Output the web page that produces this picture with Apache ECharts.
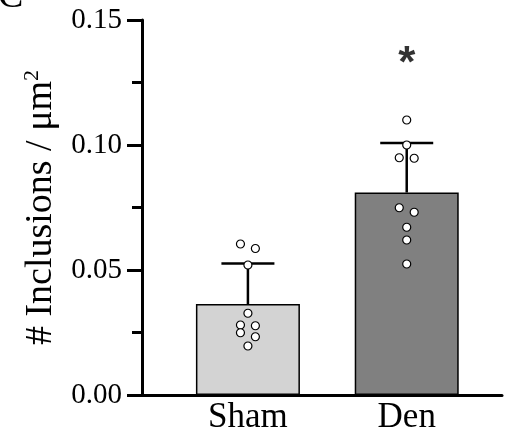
<!DOCTYPE html>
<html>
<head>
<meta charset="utf-8">
<script src="https://cdn.jsdelivr.net/npm/echarts@6/dist/echarts.min.js"></script>
<style>
  html, body { margin: 0; padding: 0; background: #fff; }
  #chart { width: 507px; height: 440px; }
</style>
</head>
<body>
<div id="chart"></div>
<script>
  const categories = ["Sham", "Den"];
  const means = [0.0364, 0.0810];
  const sds = [0.0162, 0.0198];
  const barColors = ["#d3d3d3", "#808080"];

  // individual animals
  const shamPoints = [0.0604, 0.0586, 0.0520, 0.0327, 0.0280, 0.0277, 0.0249, 0.0233, 0.0196];
  const denPoints = [0.1100, 0.1000, 0.0949, 0.0947, 0.0749, 0.0731, 0.0671, 0.0620, 0.0524];
  // horizontal jitter in steps (-1 left, 0 centre, 1 right)
  const shamJitter = [-1, 1, 0, 0, -1, 1, -1, 1, 0];
  const denJitter = [0, 0, -1, 1, -1, 1, 0, 0, 0];

  const yTicks = [0, 0.05, 0.10, 0.15];
  const sigValue = 0.132; // "*" over Den

  const FONT = "'Liberation Serif', 'Times New Roman', serif";
  const JIT = 0.047;

  const pos = (i) => i + 1;

  const dots = [];
  shamPoints.forEach((v, k) => dots.push([pos(0) + shamJitter[k] * JIT, v]));
  denPoints.forEach((v, k) => dots.push([pos(1) + denJitter[k] * JIT, v]));

  const chart = echarts.init(document.getElementById("chart"));

  chart.setOption({
    animation: false,
    grid: { left: 142, right: 5, top: 20, bottom: 45 },
    xAxis: {
      type: "value",
      min: 0.333,
      max: 2.6,
      splitLine: { show: false },
      axisLine: { show: true, lineStyle: { color: "#000", width: 3 } },
      axisTick: { show: false },
      axisLabel: {
        customValues: categories.map((c, i) => pos(i)),
        formatter: (v) => categories[Math.round(v) - 1] || "",
        color: "#000",
        fontFamily: FONT,
        fontSize: 35,
        margin: 5,
      },
    },
    yAxis: {
      type: "value",
      min: yTicks[0],
      max: yTicks[yTicks.length - 1],
      interval: 0.05,
      splitLine: { show: false },
      axisLine: { show: true, lineStyle: { color: "#000", width: 3 } },
      axisTick: { show: true, length: 15, lineStyle: { width: 3, color: "#000" } },
      minorTick: { show: true, splitNumber: 2, length: 10, lineStyle: { width: 3, color: "#000" } },
      axisLabel: {
        formatter: (v) => v.toFixed(2),
        color: "#000",
        fontFamily: FONT,
        fontSize: 29,
        margin: 20,
      },
      name: "{a|# Inclusions / μm}{s|2}",
      nameLocation: "middle",
      nameGap: 64,
      nameTextStyle: {
        rich: {
          a: { fontFamily: FONT, fontSize: 38, color: "#000", lineHeight: 40 },
          s: { fontFamily: FONT, fontSize: 22, color: "#000", verticalAlign: "top", lineHeight: 40 },
        },
      },
    },
    graphic: [
      {
        type: "text",
        left: -2,
        top: -22,
        style: { text: "C", font: "38px " + FONT, fill: "#000" },
      },
    ],
    series: [
      {
        type: "bar",
        barWidth: 104,
        data: means.map((m, i) => ({
          value: [pos(i), m],
          itemStyle: { color: barColors[i], borderColor: "#000", borderWidth: 1.5 },
        })),
        z: 2,
      },
      {
        type: "custom",
        z: 3,
        data: means.map((m, i) => [pos(i), m, m + sds[i]]),
        renderItem: (params, api) => {
          const base = api.coord([api.value(0), api.value(1)]);
          const top = api.coord([api.value(0), api.value(2)]);
          const half = 26.5;
          const style = { stroke: "#000", lineWidth: 2.5 };
          return {
            type: "group",
            children: [
              { type: "line", shape: { x1: base[0], y1: base[1], x2: top[0], y2: top[1] }, style },
              { type: "line", shape: { x1: top[0] - half, y1: top[1], x2: top[0] + half, y2: top[1] }, style },
            ],
          };
        },
      },
      {
        type: "scatter",
        z: 4,
        symbol: "circle",
        symbolSize: 8,
        itemStyle: { color: "#fff", borderColor: "#000", borderWidth: 1.2, opacity: 1 },
        data: dots,
      },
      {
        type: "scatter",
        z: 4,
        symbolSize: 0,
        data: [[pos(1), sigValue]],
        label: {
          show: true,
          position: "inside",
          formatter: "*",
          color: "#000",
          fontFamily: "'Liberation Sans', Arial, sans-serif",
          fontWeight: "bold",
          fontSize: 44,
        },
      },
    ],
  });
</script>
</body>
</html>
